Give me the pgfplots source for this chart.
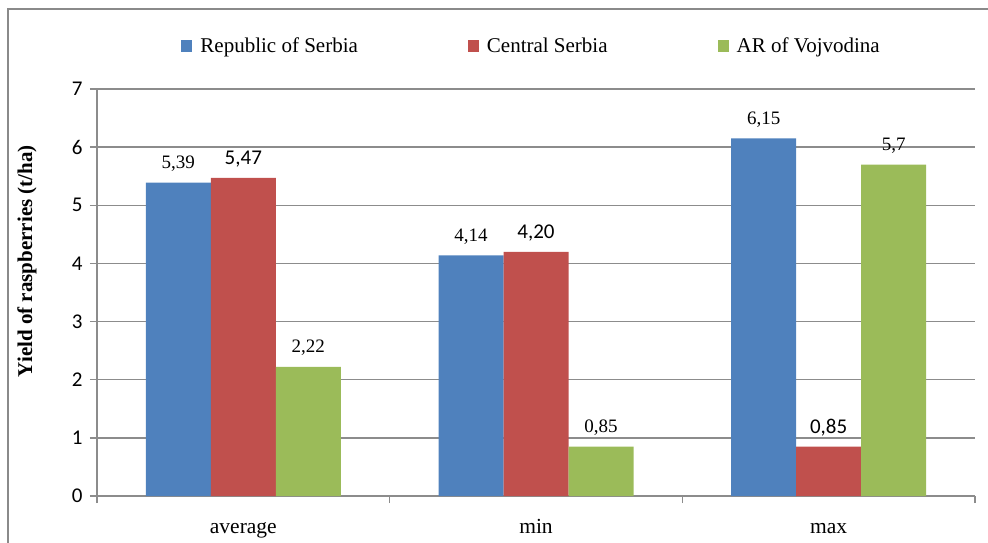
\documentclass[border=0pt]{standalone}
\usepackage{fontspec}
\setmainfont{Liberation Serif}
\newfontfamily\carlito{Carlito}
\usepackage{pgfplots}
\pgfplotsset{compat=1.18}
\definecolor{SerbiaBlue}{HTML}{4F81BD}
\definecolor{CentralRed}{HTML}{C0504D}
\definecolor{VojGreen}{HTML}{9BBB59}
\definecolor{AxGray}{HTML}{8C8C8C}
\definecolor{FrameGray}{HTML}{8A8A8A}

% legend square plus the small gap before the text
\newcommand{\sqimg}[1]{\fill[#1] (0pt,-6pt) rectangle (11pt,6pt); \path (17pt,0pt);}

\begin{document}
\begin{tikzpicture}
\begin{axis}[
    name=ax,
    at={(0,0)}, anchor=south west,
    scale only axis,
    width=878pt, height=407pt,
    ybar=0pt,
    bar width=65pt,
    xmin=-0.5, xmax=2.5,
    ymin=0, ymax=7,
    ytick={0,1,2,3,4,5,6,7},
    xtick={-0.5,0.5,1.5,2.5},
    xticklabels={},
    extra x ticks={0,1,2},
    extra x tick labels={average,min,max},
    extra x tick style={major tick length=0pt, grid=none,
        xticklabel style={anchor=base, yshift=-37pt, font=\fontsize{21.5}{24}\selectfont}},
    axis lines=left,
    axis line style={-, draw=AxGray, line width=1.5pt},
    tick style={draw=AxGray, line width=1.5pt},
    major tick length=7pt,
    tick align=outside,
    ymajorgrids,
    major grid style={draw=AxGray, line width=1.5pt},
    yticklabel style={font=\carlito\fontsize{21}{24}\selectfont, xshift=-4pt,
        /pgf/number format/assume math mode=true},
    ylabel={\textbf{Yield of raspberries (t/ha)}},
    ylabel style={at={(axis description cs:0,0.577)}, anchor=center, yshift=70pt,
        font=\fontsize{21}{24}\selectfont},
    legend style={at={(axis description cs:0.495,1.106)}, anchor=center,
        draw=none, fill=none, legend columns=3,
        font=\fontsize{21}{24}\selectfont,
        /tikz/every even column/.append style={column sep=108pt}},
    nodes near coords,
    point meta=explicit symbolic,
    every node near coord/.append style={anchor=base, inner sep=0pt, text=black},
]
\addplot[fill=SerbiaBlue, draw=none, legend image code/.code={\sqimg{SerbiaBlue}},
    every node near coord/.append style={yshift=14pt, font=\fontsize{19}{22}\selectfont}]
coordinates {(0,5.39) [{5,39}] (1,4.14) [{4,14}] (2,6.15) [{6,15}]};
\addlegendentry{Republic of Serbia}
\addplot[fill=CentralRed, draw=none, legend image code/.code={\sqimg{CentralRed}},
    every node near coord/.append style={yshift=13pt, font=\carlito\fontsize{21}{24}\selectfont}]
coordinates {(0,5.47) [{5,47}] (1,4.20) [{4,20}] (2,0.85) [{0,85}]};
\addlegendentry{Central Serbia}
\addplot[fill=VojGreen, draw=none, legend image code/.code={\sqimg{VojGreen}},
    every node near coord/.append style={yshift=14pt, font=\fontsize{19}{22}\selectfont}]
coordinates {(0,2.22) [{2,22}] (1,0.85) [{0,85}] (2,5.7) [{5,7}]};
\addlegendentry{AR of Vojvodina}
\end{axis}
\draw[FrameGray, line width=2pt] ([shift={(-89pt,-60pt)}]ax.south west) -- ([shift={(-89pt,487pt)}]ax.south west) -- ([shift={(920pt,487pt)}]ax.south west);
\pgfresetboundingbox
\path[use as bounding box] ([shift={(-97pt,-46pt)}]ax.south west) rectangle ([shift={(891pt,496pt)}]ax.south west);
\end{tikzpicture}
\end{document}
